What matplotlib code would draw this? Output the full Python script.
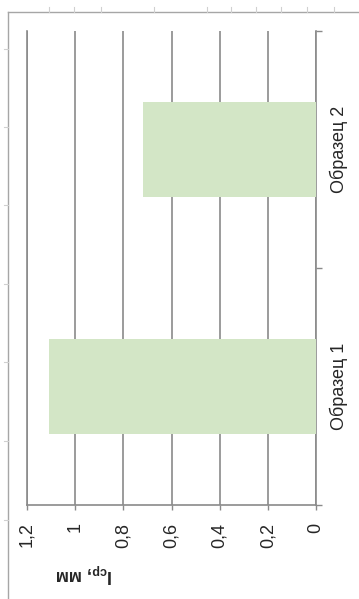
import matplotlib
matplotlib.use("Agg")
import matplotlib.pyplot as plt
from matplotlib.lines import Line2D

# данные
categories = ["Образец 1", "Образец 2"]
values = [1.11, 0.72]
value_ticks = [0, 0.2, 0.4, 0.6, 0.8, 1.0, 1.2]
value_tick_labels = ["0", "0,2", "0,4", "0,6", "0,8", "1", "1,2"]
axis_title = r"I$_{\mathbf{ср}}$, мм"

plt.rcParams["font.family"] = ["Liberation Sans", "DejaVu Sans"]
plt.rcParams["mathtext.fontset"] = "custom"
plt.rcParams["mathtext.bf"] = "Liberation Sans:bold"
plt.rcParams["mathtext.rm"] = "Liberation Sans"

W, H = 359, 599
GRID = "#8a8a8a"
FRAME = "#a6a6a6"
TEXT = "#262626"
BAR = "#d3e6c6"


def fx(x):
    return x / W


def fy(y):
    return 1 - y / H


fig = plt.figure(figsize=(W / 100, H / 100), dpi=100)

# рамка листа с мелкими засечками
fig.add_artist(Line2D([fx(8), fx(8)], [fy(12), fy(599)], color=FRAME, lw=1.0))
fig.add_artist(Line2D([fx(8), fx(359)], [fy(12), fy(12)], color=FRAME, lw=1.0))
for x in [49, 74, 101, 154, 207, 231, 256, 281, 307, 334]:
    fig.add_artist(Line2D([fx(x), fx(x)], [fy(7), fy(12)], color="#d0d0d0", lw=0.8))
for y in [49, 127, 205, 284, 362, 441, 520]:
    fig.add_artist(Line2D([fx(4), fx(8)], [fy(y), fy(y)], color="#d0d0d0", lw=0.8))

ax = fig.add_axes([fx(27), fy(505), fx(316) - fx(27), fy(31) - fy(505)])

pos = list(range(len(categories)))
ax.barh(pos, values, height=0.4, color=BAR, zorder=3)

ax.set_xlim(1.2, 0)
ax.set_ylim(-0.5, len(categories) - 0.5)

ax.set_xticks(value_ticks)
ax.set_xticklabels(value_tick_labels, rotation=90, fontsize=13, color=TEXT)
ax.tick_params(axis="x", direction="out", length=3.6, width=1.0, color=GRID, pad=9)
ax.grid(axis="x", color=GRID, lw=1.2, zorder=0)

# ось категорий справа
ax.yaxis.tick_right()
ax.set_yticks([p - 0.5 for p in pos] + [pos[-1] + 0.5])
ax.set_yticklabels([])
ax.set_yticks(pos, minor=True)
ax.set_yticklabels(categories, minor=True, rotation=90, fontsize=13, color=TEXT, va="center")
ax.tick_params(axis="y", which="major", direction="out", length=4.3, width=1.0, color=GRID)
ax.tick_params(axis="y", which="minor", length=0, pad=10)

for side in ["left", "right", "bottom"]:
    ax.spines[side].set_color(GRID)
    ax.spines[side].set_linewidth(1.2)
ax.spines["top"].set_visible(False)

fig.text(fx(84), fy(573), axis_title, rotation=180, ha="center", va="center",
         fontsize=13, fontweight="bold", color=TEXT)

fig.savefig("out.png", dpi=100)
